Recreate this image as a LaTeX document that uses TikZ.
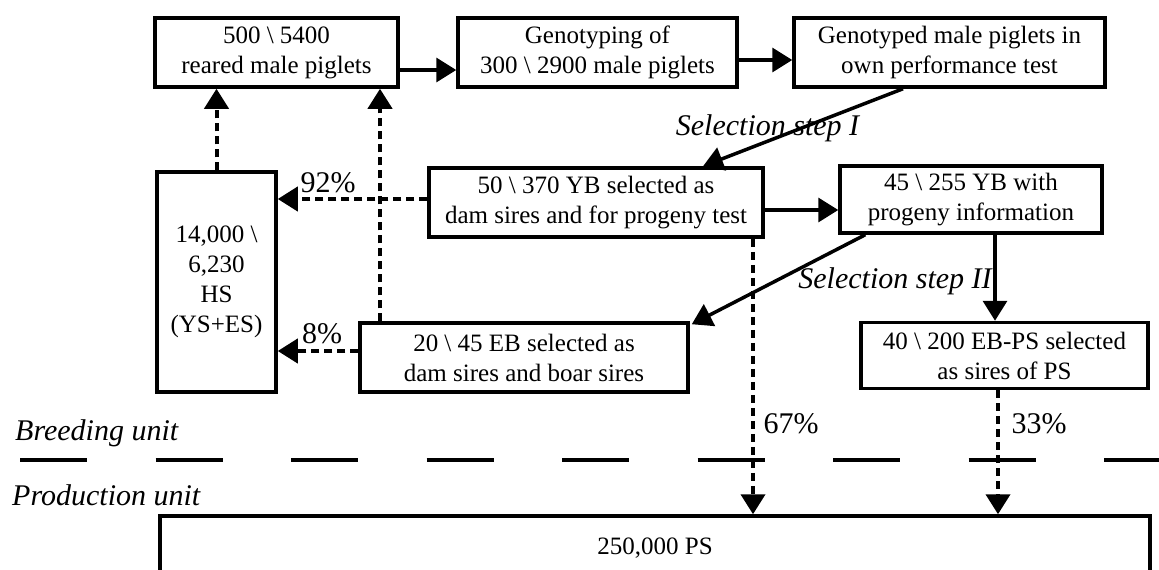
\documentclass[tikz,border=0pt]{standalone}
\usepackage{fontspec}
\setmainfont{Liberation Serif}
\usetikzlibrary{arrows.meta,calc}
\tikzset{
  box/.style={draw, line width=3.5pt, rectangle, align=center, inner sep=0pt,
    font=\fontsize{25}{30}\selectfont},
  conn/.style={line width=3.5pt, -{Triangle[length=20pt,width=24pt]}},
  dconn/.style={line width=4pt, dash pattern=on 8pt off 5pt, -{Triangle[length=20pt,width=24pt]}},
  plain/.style={line width=3.5pt},
  lab/.style={font=\fontsize{30}{34}\selectfont\itshape, inner sep=0pt, anchor=base},
  pct/.style={font=\fontsize{30}{34}\selectfont, inner sep=0pt, anchor=base},
  sep/.style={line width=4pt, dash pattern=on 67pt off 68.5pt}
}
\begin{document}
\begin{tikzpicture}[x=1pt,y=-1pt]
\useasboundingbox (0,0) rectangle (1159,570);
% boxes
\node[box, minimum width=243pt, minimum height=69pt] (A) at (276.5,52.5) {500 \textbackslash\ 5400\\reared male piglets};
\node[box, minimum width=279pt, minimum height=69pt] (B) at (597.5,52.5) {Genotyping of\\300 \textbackslash\ 2900 male piglets};
\node[box, minimum width=311pt, minimum height=69pt] (C) at (949.5,52.5) {Genotyped male piglets in\\own performance test};
\node[box, minimum width=334pt, minimum height=69pt] (D) at (596,202.5) {50 \textbackslash\ 370 YB selected as\\dam sires and for progeny test};
\node[box, minimum width=262pt, minimum height=67pt] (E) at (971,199.5) {45 \textbackslash\ 255 YB with\\progeny information};
\node[box, minimum width=119pt, minimum height=220pt] (HS) at (216.5,282) {14,000 \textbackslash\\6,230\\HS\\(YS+ES)};
\node[box, minimum width=328pt, minimum height=69pt] (F) at (524,357.5) {20 \textbackslash\ 45 EB selected as\\dam sires and boar sires};
\node[box, minimum width=287pt, minimum height=66pt] (G) at (1004.5,355.5) {40 \textbackslash\ 200 EB-PS selected\\as sires of PS};
\node[box, minimum width=990pt, minimum height=64pt] (PS) at (655,548) {250,000 PS};
% labels
\node[lab] (l1) at (767.5,135) {Selection step I};
\node[lab] (l2) at (895,288) {Selection step II};
\node[lab, anchor=base west] (bu) at (15,440) {Breeding unit};
\node[lab, anchor=base west] (pu) at (12,505) {Production unit};
\node[pct] (p92) at (328,192) {92\%};
\node[pct] (p8) at (322,343) {8\%};
\node[pct] (p67) at (791,433) {67\%};
\node[pct] (p33) at (1039,433) {33\%};
% separator
\coordinate (sepL) at (20,460);
\coordinate (sepR) at (1159,460);
\draw[sep] (sepL) -- (sepR);
% solid connectors
\draw[conn] ([yshift=-17.5pt]A.east) -- ([yshift=-17.5pt]A.east -| B.west);
\draw[conn] ([yshift=-7.5pt]B.east) -- ([yshift=-7.5pt]B.east -| C.west);
\draw[conn] ([xshift=-46.5pt]C.south) -- ([xshift=107pt]D.north);
\draw[conn] ([yshift=-7.5pt]D.east) -- ([yshift=-7.5pt]D.east -| E.west);
\draw[conn] ([xshift=24pt]E.south) -- ([xshift=24pt]E.south |- G.north);
\draw[conn] ([xshift=27pt]E.south west) -- ([xshift=2pt,yshift=-3pt]F.north east);
% dashed connectors
\draw[dconn] ([yshift=3.5pt]D.west) -- ([yshift=3.5pt]D.west -| HS.east);
\draw[dconn] ([yshift=6.5pt]F.west) -- ([yshift=6.5pt]F.west -| HS.east);
\draw[dconn] (HS.north) -- (HS.north |- A.south);
\draw[dconn] ([xshift=-144pt]F.north) -- ([xshift=-144pt]F.north |- A.south);
\draw[dconn] ([xshift=157pt]D.south) -- ([xshift=157pt]D.south |- PS.north);
\draw[dconn] ([xshift=-6.5pt]G.south) -- ([xshift=-6.5pt]G.south |- PS.north);
\end{tikzpicture}
\end{document}
